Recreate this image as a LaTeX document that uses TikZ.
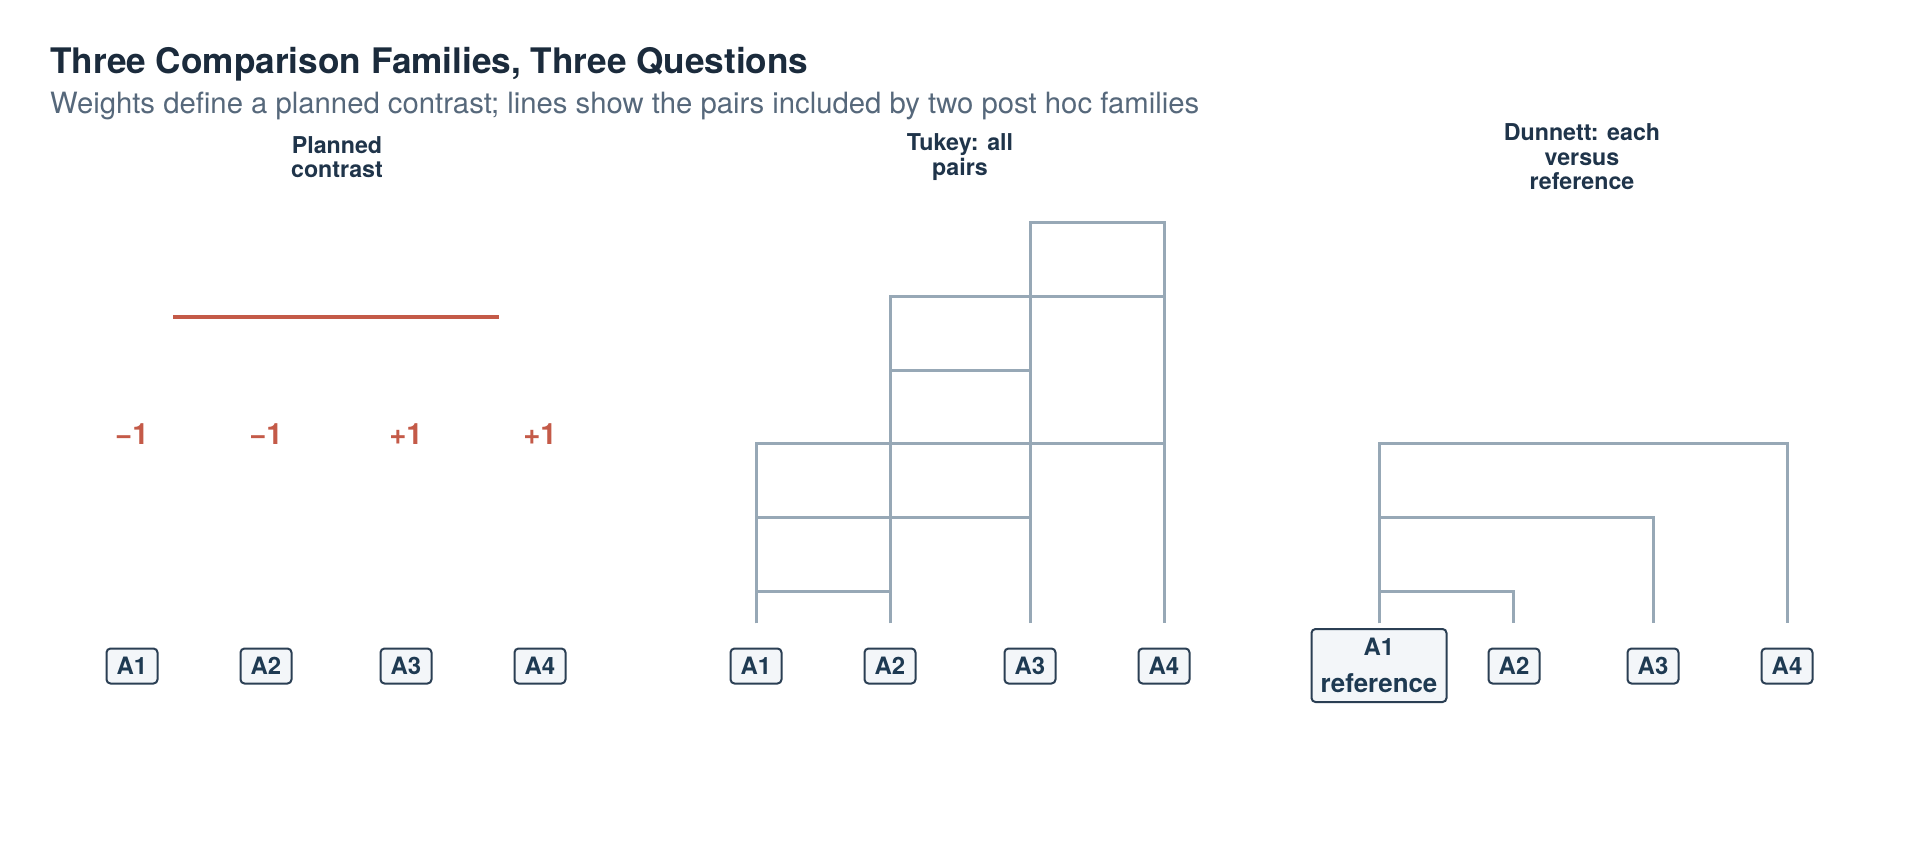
\documentclass[tikz,border=0pt]{standalone}
\usepackage{fontspec}
\setmainfont{TeX Gyre Heros}
\definecolor{ink}{HTML}{1B2B3C}
\definecolor{subink}{HTML}{56687B}
\definecolor{ptink}{HTML}{1F344A}
\definecolor{boxline}{HTML}{2B3F54}
\definecolor{boxfill}{HTML}{F3F6F9}
\definecolor{boxtext}{HTML}{1E3A52}
\definecolor{pairgray}{HTML}{97A8B6}
\definecolor{accent}{HTML}{C45A48}
\tikzset{
  lvlbox/.style={draw=boxline, fill=boxfill, line width=2bp, rounded corners=4bp,
    minimum width=51bp, minimum height=35bp, inner sep=0pt, text=boxtext,
    font=\bfseries\fontsize{24}{28}\selectfont},
  pairline/.style={draw=pairgray, line width=3bp, line cap=butt},
  contrastline/.style={draw=accent, line width=4.5bp},
  weightlbl/.style={text=accent, font=\bfseries\fontsize{29.5}{32}\selectfont, anchor=base, inner sep=0pt},
  ptitle/.style={align=center, font=\bfseries\fontsize{23.3}{24.5}\selectfont, text=ptink, inner sep=0pt}
}
\begin{document}
\begin{tikzpicture}[x=1bp,y=-1bp]
\path[fill=white, use as bounding box] (0,0) rectangle (1920,864);
% titles
\node[anchor=base west, inner sep=0pt, text=ink, font=\bfseries\fontsize{35.3}{40}\selectfont] (title) at (50,73) {Three Comparison Families, Three Questions};
\node[anchor=base west, inner sep=0pt, text=subink, font=\fontsize{29.4}{32}\selectfont] (subtitle) at (50,113) {Weights define a planned contrast; lines show the pairs included by two post hoc families};
% panel titles
\node[ptitle] (pt1) at (337,157) {Planned\\contrast};
\node[ptitle] (pt2) at (960,157) {Tukey: all\\pairs};
\node[ptitle] (pt3) at (1582,157) {Dunnett: each\\versus\\reference};
% planned contrast panel
\node[lvlbox] (p1) at (132,666) {A1};
\node[lvlbox] (p2) at (266,666) {A2};
\node[lvlbox] (p3) at (406,666) {A3};
\node[lvlbox] (p4) at (540,666) {A4};
\node[weightlbl] (w1) at (132,444) {−1};
\node[weightlbl] (w2) at (266,444) {−1};
\node[weightlbl] (w3) at (406,444) {+1};
\node[weightlbl] (w4) at (540,444) {+1};
\coordinate (cL) at (173,317);
\coordinate (cR) at (499,317);
\draw[contrastline] (cL) -- (cR);
% Tukey panel
\node[lvlbox] (k1) at (756,666) {A1};
\node[lvlbox] (k2) at (890,666) {A2};
\node[lvlbox] (k3) at (1030,666) {A3};
\node[lvlbox] (k4) at (1164,666) {A4};
\coordinate (t1) at (756,623);
\coordinate (t2) at (890,623);
\coordinate (t3) at (1030,623);
\coordinate (t4) at (1164,623);
\draw[pairline] (t1) -- ++(0,-32) -| (t2);
\draw[pairline] (t1) -- ++(0,-106) -| (t3);
\draw[pairline] (t1) -- ++(0,-180) -| (t4);
\draw[pairline] (t2) -- ++(0,-253) -| (t3);
\draw[pairline] (t2) -- ++(0,-327) -| (t4);
\draw[pairline] (t3) -- ++(0,-401) -| (t4);
% Dunnett panel
\node[lvlbox, minimum width=135bp, minimum height=73bp, align=center] (r1) at (1379,665.5)
  {A1\\[9bp]{\fontsize{26}{30}\selectfont reference}};
\node[lvlbox] (r2) at (1514,666) {A2};
\node[lvlbox] (r3) at (1653,666) {A3};
\node[lvlbox] (r4) at (1787,666) {A4};
\coordinate (d1) at (1379,623);
\coordinate (d2) at (1513,623);
\coordinate (d3) at (1653,623);
\coordinate (d4) at (1787,623);
\draw[pairline] (d1) -- ++(0,-32) -| (d2);
\draw[pairline] (d1) -- ++(0,-106) -| (d3);
\draw[pairline] (d1) -- ++(0,-180) -| (d4);
\end{tikzpicture}
\end{document}
